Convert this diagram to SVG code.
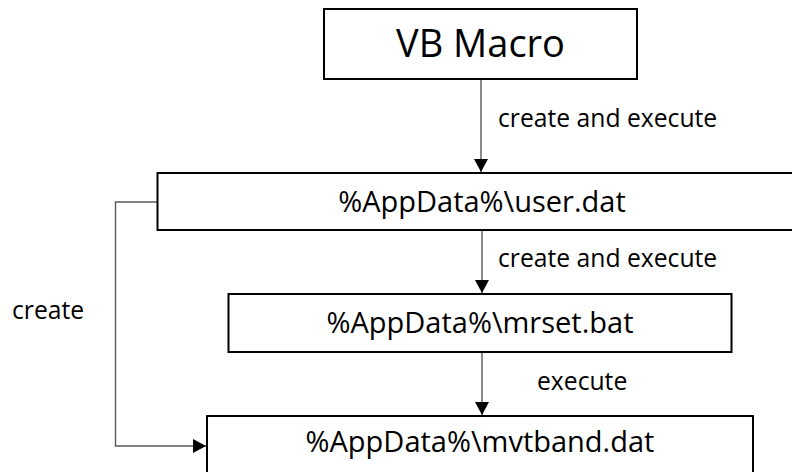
<svg xmlns="http://www.w3.org/2000/svg" width="792" height="472" viewBox="0 0 792 472">
  <style>
    .box { fill: #ffffff; stroke: #000000; stroke-width: 2; }
    .lbl { font-family: "Open Sans", "Liberation Sans", sans-serif; fill: #000000; }
    .node-text { font-size: 29px; text-anchor: middle; }
    .edge-text { font-size: 24.7px; }
    .wire { fill: none; stroke: #595959; stroke-width: 1.4; }
  </style>
  <defs>
    <marker id="arrow" markerUnits="userSpaceOnUse" markerWidth="13" markerHeight="14" viewBox="0 0 13 14" refX="13" refY="7" orient="auto">
      <path d="M0,0 L13,7 L0,14 Z" fill="#000000"/>
    </marker>
  </defs>

  <rect width="792" height="472" fill="#ffffff"/>

  <!-- connectors -->
  <g id="connectors">
    <line class="wire" x1="481" y1="79" x2="481" y2="172" marker-end="url(#arrow)"/>
    <line class="wire" x1="482" y1="230" x2="482" y2="293" marker-end="url(#arrow)"/>
    <line class="wire" x1="482" y1="352" x2="482" y2="415" marker-end="url(#arrow)"/>
    <polyline class="wire" points="157,202 115.5,202 115.5,446 206,446" marker-end="url(#arrow)"/>
    <text class="lbl edge-text" x="498" y="127">create and execute</text>
    <text class="lbl edge-text" x="498" y="267">create and execute</text>
    <text class="lbl edge-text" x="537" y="390">execute</text>
    <text class="lbl edge-text" x="12" y="319">create</text>
  </g>

  <g id="vb-macro">
    <rect class="box" x="324" y="9" width="313" height="70"/>
    <text class="lbl node-text" x="480.5" y="57" style="font-size:38px">VB Macro</text>
  </g>

  <g id="user-dat">
    <rect class="box" x="157.5" y="173" width="650" height="57"/>
    <text class="lbl node-text" x="482" y="212">%AppData%\user.dat</text>
  </g>

  <g id="mrset-bat">
    <rect class="box" x="228.5" y="294" width="503" height="58"/>
    <text class="lbl node-text" x="480" y="333">%AppData%\mrset.bat</text>
  </g>

  <g id="mvtband-dat">
    <rect class="box" x="207" y="416" width="546" height="70"/>
    <text class="lbl node-text" x="480" y="452">%AppData%\mvtband.dat</text>
  </g>
</svg>
